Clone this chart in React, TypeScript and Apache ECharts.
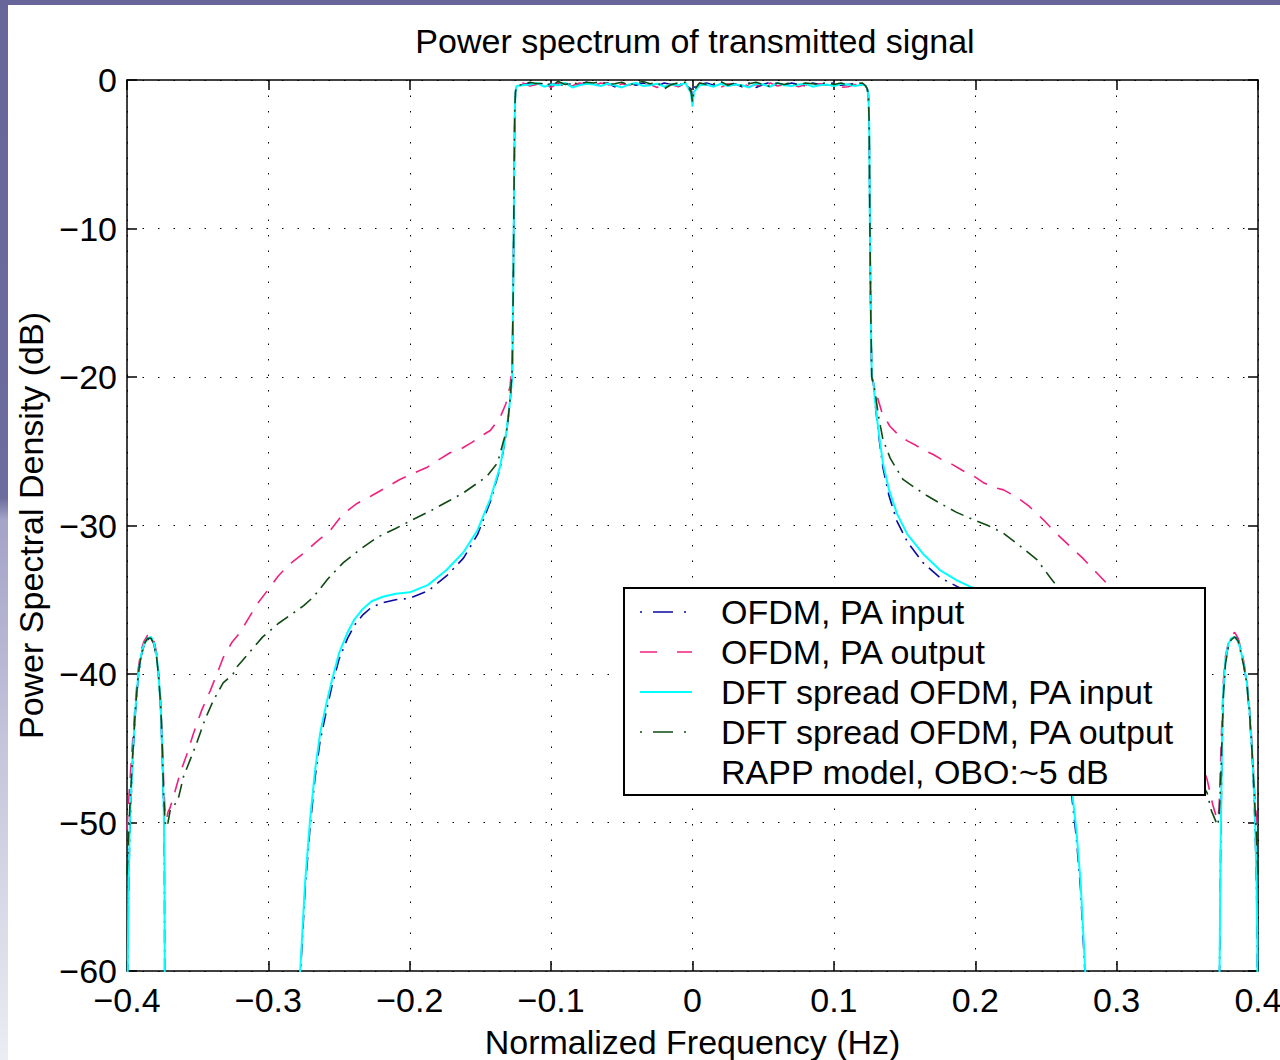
import React, { useEffect, useRef } from "react";
import * as echarts from "echarts";

// ---------- DATA ----------
const xTicks = [-0.4, -0.3, -0.2, -0.1, 0, 0.1, 0.2, 0.3, 0.4];
const yTicks = [-60, -50, -40, -30, -20, -10, 0];

const seriesNames = [
  "OFDM, PA input",
  "OFDM, PA output",
  "DFT spread OFDM, PA input",
  "DFT spread OFDM, PA output",
];
const legendNote = "RAPP model, OBO:~5 dB";

// left image lobe (frequency)
const lobeLF_in = [-0.4, -0.3995, -0.399, -0.398, -0.396, -0.394, -0.392, -0.39, -0.388, -0.3855, -0.383, -0.381, -0.379, -0.3775, -0.376, -0.375, -0.374, -0.3735, -0.3728];
const lobeLF_out = [-0.4, -0.3995, -0.399, -0.398, -0.396, -0.394, -0.392, -0.39, -0.388, -0.3855, -0.383, -0.381, -0.379, -0.3775, -0.376, -0.375, -0.374, -0.373, -0.372];
const blueLobeL = [-80, -60, -55.5, -50.5, -45.8, -42.5, -40.2, -38.8, -38.1, -37.7, -37.5, -38, -38.9, -40.4, -42.7, -45.8, -49.3, -53.5, -80];
const cyanLobeL = [-80, -60, -55, -50, -45.5, -42.3, -40, -38.7, -38, -37.6, -37.5, -37.9, -38.8, -40.3, -42.5, -45.5, -49, -53, -80];
const pinkLobeL = [-50.5, -49.6, -48.8, -47.3, -44.5, -41.8, -39.6, -38.4, -37.8, -37.4, -37.3, -37.7, -38.6, -40, -42, -44.5, -47.5, -49.4, -49.8];
const greenLobeL = [-53.5, -52.5, -51, -49, -45.5, -42.3, -40, -38.7, -38, -37.6, -37.6, -38, -38.9, -40.3, -42.4, -45.2, -48.3, -50, -50.3];

// left skirts
const skirtLF_in = [-0.278, -0.2775, -0.274, -0.2705, -0.267, -0.2634, -0.259, -0.255, -0.25, -0.244, -0.239, -0.233, -0.227, -0.219, -0.21, -0.2, -0.187, -0.174, -0.162, -0.152, -0.143, -0.136, -0.1315, -0.129, -0.1275];
const blueSkirtL = [-80, -60.5, -54.5, -50.3, -47, -44.5, -42.5, -40.8, -39, -37.6, -36.7, -36, -35.5, -35.2, -35, -34.9, -34.4, -33.4, -32.2, -30.6, -28.4, -26.1, -23.7, -21.6, -20];
const cyanSkirtL = [-80, -60, -54, -49.8, -46.5, -44, -42, -40.4, -38.6, -37.2, -36.3, -35.6, -35.1, -34.8, -34.6, -34.5, -34, -33, -31.8, -30.3, -28.2, -26, -23.6, -21.5, -20];
const pinkSkirtLF = [-0.371, -0.3695, -0.366, -0.3625, -0.358, -0.353, -0.347, -0.341, -0.336, -0.332, -0.326, -0.32, -0.315, -0.308, -0.3, -0.293, -0.285, -0.2755, -0.266, -0.256, -0.247, -0.237, -0.227, -0.216, -0.207, -0.1977, -0.188, -0.18, -0.1715, -0.163, -0.156, -0.15, -0.143, -0.136, -0.132, -0.129, -0.1275];
const pinkSkirtL = [-49.3, -49, -47.9, -46.7, -45.5, -44, -42.4, -41.1, -39.9, -38.9, -37.9, -37.2, -36.4, -35.3, -34.3, -33.4, -32.6, -31.9, -31.1, -30.3, -29.2, -28.5, -28.0, -27.4, -26.9, -26.5, -26.1, -25.6, -25.1, -24.8, -24.4, -24.0, -23.6, -22.7, -21.8, -20.6, -19];
const greenSkirtLF = [-0.371, -0.3695, -0.364, -0.36, -0.355, -0.3505, -0.345, -0.339, -0.332, -0.325, -0.322, -0.313, -0.304, -0.293, -0.2825, -0.275, -0.268, -0.258, -0.247, -0.235, -0.223, -0.21, -0.1977, -0.185, -0.1715, -0.162, -0.1455, -0.138, -0.131, -0.129, -0.1275];
const greenSkirtL = [-50, -49.2, -48.5, -46.9, -45.7, -44.6, -43.1, -41.8, -40.6, -40, -39.5, -38.5, -37.5, -36.6, -35.9, -35.4, -34.8, -33.6, -32.5, -31.6, -30.8, -30.2, -29.6, -29, -28.3, -27.8, -26.7, -25.8, -23.4, -21.5, -19.5];

// band edges
const edgeLF = [-0.1268, -0.1262, -0.1257, -0.1252, -0.1245];
const edgeLDb = [-14, -7, -2, -0.8, -0.4];
const edgeRF = [0.1225, 0.1236, 0.1244, 0.125, 0.1254, 0.126, 0.1268];
const edgeRDb = [-0.4, -0.6, -1.0, -3, -9, -15, -20];

// passband
const passF = [-0.12, -0.115, -0.11, -0.105, -0.1, -0.095, -0.09, -0.085, -0.08, -0.075, -0.07, -0.065, -0.06, -0.055, -0.05, -0.045, -0.04, -0.035, -0.03, -0.025, -0.02, -0.015, -0.01, -0.005, -0.001, 0, 0.001, 0.005, 0.01, 0.015, 0.02, 0.025, 0.03, 0.035, 0.04, 0.045, 0.05, 0.055, 0.06, 0.065, 0.07, 0.075, 0.08, 0.085, 0.09, 0.095, 0.1, 0.105, 0.11, 0.115, 0.12];
const bluePass = [-0.3, -0.2, -0.35, -0.2, -0.3, -0.25, -0.4, -0.2, -0.3, -0.15, -0.35, -0.25, -0.2, -0.45, -0.3, -0.2, -0.35, -0.2, -0.3, -0.4, -0.2, -0.3, -0.25, -0.35, -0.6, -1.1, -0.5, -0.3, -0.2, -0.35, -0.15, -0.3, -0.25, -0.45, -0.2, -0.5, -0.3, -0.15, -0.25, -0.35, -0.2, -0.3, -0.4, -0.2, -0.3, -0.25, -0.2, -0.35, -0.3, -0.25, -0.35];
const pinkPass = [-0.2, -0.4, -0.3, -0.25, -0.5, -0.2, -0.35, -0.4, -0.2, -0.3, -0.45, -0.2, -0.3, -0.5, -0.25, -0.35, -0.2, -0.4, -0.3, -0.5, -0.25, -0.3, -0.45, -0.2, -0.7, -1.3, -0.6, -0.2, -0.35, -0.3, -0.5, -0.25, -0.35, -0.2, -0.45, -0.3, -0.55, -0.2, -0.4, -0.3, -0.25, -0.45, -0.3, -0.5, -0.25, -0.35, -0.3, -0.5, -0.45, -0.3, -0.5];
const cyanPass = [-0.35, -0.3, -0.2, -0.45, -0.3, -0.35, -0.2, -0.5, -0.35, -0.25, -0.3, -0.4, -0.25, -0.35, -0.5, -0.3, -0.2, -0.4, -0.35, -0.25, -0.45, -0.3, -0.35, -0.2, -0.9, -1.8, -0.8, -0.35, -0.3, -0.45, -0.25, -0.4, -0.3, -0.35, -0.5, -0.25, -0.3, -0.45, -0.2, -0.35, -0.4, -0.3, -0.25, -0.45, -0.35, -0.3, -0.4, -0.25, -0.3, -0.4, -0.3];
const greenPass = [-0.3, -0.15, -0.25, -0.2, -0.35, -0.1, -0.3, -0.2, -0.25, -0.15, -0.2, -0.1, -0.3, -0.25, -0.15, -0.35, -0.2, -0.1, -0.25, -0.15, -0.6, -0.3, -0.2, -0.15, -0.8, -1.5, -0.7, -0.2, -0.3, -0.25, -0.1, -0.35, -0.2, -0.4, -0.25, -0.15, -0.3, -0.45, -0.2, -0.3, -0.15, -0.35, -0.2, -0.25, -0.3, -0.15, -0.3, -0.2, -0.35, -0.25, -0.2];

// right skirts
const skirtRF_in = [0.128, 0.129, 0.1315, 0.1347, 0.139, 0.1446, 0.152, 0.163, 0.175, 0.187, 0.196, 0.21, 0.22, 0.23, 0.238, 0.244, 0.25, 0.255, 0.259, 0.2634, 0.268, 0.2715, 0.2745, 0.2778, 0.2785];
const cyanSkirtR = [-20.4, -21.5, -23.6, -25.8, -27.6, -29.2, -30.6, -31.9, -33, -33.7, -34.1, -34.6, -34.9, -35.4, -36.2, -37.2, -38.6, -40.4, -42, -44, -47.5, -50.5, -54, -60, -80];
const blueSkirtR = [-20.4, -21.6, -23.8, -26.1, -28, -29.7, -31.1, -32.5, -33.5, -34.1, -34.5, -35, -35.3, -35.8, -36.6, -37.6, -39, -40.8, -42.5, -44.5, -48, -51, -54.5, -60.5, -80];
const pinkSkirtRF = [0.128, 0.13, 0.134, 0.1395, 0.1446, 0.152, 0.158, 0.163, 0.17, 0.177, 0.184, 0.191, 0.198, 0.2055, 0.212, 0.22, 0.2295, 0.238, 0.248, 0.257, 0.267, 0.276, 0.286, 0.293, 0.3, 0.31, 0.32, 0.33, 0.34, 0.348, 0.355, 0.36, 0.364, 0.368, 0.3705];
const pinkSkirtR = [-20.5, -21.1, -22.4, -23.3, -23.8, -24.3, -24.6, -24.9, -25.2, -25.6, -25.9, -26.3, -26.6, -27.1, -27.4, -27.6, -28.1, -28.7, -29.6, -30.5, -31.4, -32.2, -33.2, -33.9, -34.6, -36, -37.4, -39.2, -41, -42.8, -44.6, -46, -47.1, -48.8, -49.6];
const greenSkirtRF = [0.128, 0.129, 0.1315, 0.1347, 0.14, 0.1489, 0.158, 0.166, 0.175, 0.1865, 0.1984, 0.209, 0.2196, 0.232, 0.2436, 0.253, 0.262, 0.27, 0.28, 0.29, 0.3, 0.31, 0.32, 0.33, 0.34, 0.35, 0.358, 0.364, 0.367, 0.3705];
const greenSkirtR = [-20.5, -20.9, -22.6, -24.2, -25.5, -26.9, -27.5, -28, -28.5, -29.1, -29.6, -30, -30.5, -31.4, -32.3, -33.5, -34.6, -35.6, -36.9, -38.2, -39.5, -40.8, -42, -43.3, -44.6, -46, -47.1, -48, -49.2, -50];

// right image lobe
const lobeRF_in = [0.3722, 0.3728, 0.3735, 0.3745, 0.3755, 0.377, 0.379, 0.381, 0.3835, 0.386, 0.388, 0.39, 0.392, 0.394, 0.396, 0.397, 0.398, 0.399, 0.3995, 0.4];
const lobeRF_out = [0.3715, 0.3725, 0.3735, 0.3745, 0.3755, 0.377, 0.379, 0.381, 0.3835, 0.386, 0.388, 0.39, 0.392, 0.394, 0.396, 0.397, 0.398, 0.399, 0.3995, 0.4];
const cyanLobeR = [-80, -60, -52, -45, -41, -39, -38, -37.6, -37.5, -37.8, -38.5, -39.4, -40.5, -42.5, -45.5, -47.5, -50, -54, -58, -80];
const blueLobeR = [-80, -60, -52.5, -45.3, -41.2, -39.1, -38.1, -37.6, -37.4, -37.7, -38.4, -39.4, -40.6, -42.7, -45.8, -47.8, -50.4, -54.5, -58.5, -80];
const pinkLobeR = [-49.8, -49, -46, -43, -40.5, -38.8, -37.9, -37.4, -37.2, -37.6, -38.3, -39.2, -40.3, -42.2, -45, -46.8, -48.6, -49.8, -50.2, -50.4];
const greenLobeR = [-50.2, -49.5, -47.5, -44.5, -41.5, -39.3, -38.2, -37.7, -37.5, -37.8, -38.6, -39.5, -40.6, -42.6, -45.5, -47.3, -49.3, -51, -52.3, -53.5];

// ---------- STYLE ----------
const FONT = '"Liberation Sans", Arial, Helvetica, sans-serif';
const FS = 34;
const COLORS = ["#0a0aa0", "#f0207f", "#00ffff", "#0f4a12"];
const DASHES: any[] = [[14, 6.5, 2, 6.5], [15, 11], "solid", [14, 6.5, 2, 6.5]];
const WIDTHS = [1.6, 1.6, 2, 1.6];
const LEGEND_DASH = [[2, 11, 20, 11, 2, 100], [17, 20, 15, 100], null, [2, 11, 20, 11, 2, 100]];

const zip = (fs: number[], vs: number[]) => fs.map((f, i) => [f, vs[i]]);

const seriesData = [
  [...zip(lobeLF_in, blueLobeL), ...zip(skirtLF_in, blueSkirtL), ...zip(edgeLF, edgeLDb), ...zip(passF, bluePass), ...zip(edgeRF, edgeRDb), ...zip(skirtRF_in, blueSkirtR), ...zip(lobeRF_in, blueLobeR)],
  [...zip(lobeLF_out, pinkLobeL), ...zip(pinkSkirtLF, pinkSkirtL), ...zip(edgeLF, edgeLDb), ...zip(passF, pinkPass), ...zip(edgeRF, edgeRDb), ...zip(pinkSkirtRF, pinkSkirtR), ...zip(lobeRF_out, pinkLobeR)],
  [...zip(lobeLF_in, cyanLobeL), ...zip(skirtLF_in, cyanSkirtL), ...zip(edgeLF, edgeLDb), ...zip(passF, cyanPass), ...zip(edgeRF, edgeRDb), ...zip(skirtRF_in, cyanSkirtR), ...zip(lobeRF_in, cyanLobeR)],
  [...zip(lobeLF_out, greenLobeL), ...zip(greenSkirtLF, greenSkirtL), ...zip(edgeLF, edgeLDb), ...zip(passF, greenPass), ...zip(edgeRF, edgeRDb), ...zip(greenSkirtRF, greenSkirtR), ...zip(lobeRF_out, greenLobeR)],
];

const fmt = (v: number) => {
  const s = Math.abs(v) < 1e-9 ? "0" : Number.isInteger(v) ? String(v) : v.toFixed(1);
  return s.replace("-", "\u2212");
};

export default function App() {
  const ref = useRef<HTMLDivElement>(null);
  useEffect(() => {
    if (!ref.current) return;
    const chart = echarts.init(ref.current, undefined, { renderer: "svg" });
    const textStyle = { fontFamily: FONT, fontSize: FS, color: "#000" };
    const axLine = { show: true, onZero: false, lineStyle: { color: "#000", width: 1.5 } };
    const axTick = { show: true, inside: true, length: 10, lineStyle: { color: "#000", width: 1.5 } };
    const grid = { show: true, lineStyle: { color: "#000", width: 1, type: [1.5, 14] as any } };

    const legendX = 624, legendY = 588, legendW = 581, legendH = 207;
    const rowY = (i: number) => legendY + 24 + i * 40;
    const legendEls: any[] = [
      { type: "rect", z: 100, shape: { x: legendX, y: legendY, width: legendW, height: legendH }, style: { fill: "#fff", stroke: "#000", lineWidth: 2 } },
    ];
    seriesNames.forEach((n, i) => {
      legendEls.push({
        type: "line", z: 101,
        shape: { x1: 640, y1: rowY(i), x2: 692, y2: rowY(i) },
        style: { stroke: COLORS[i], lineWidth: WIDTHS[i], lineDash: LEGEND_DASH[i] || undefined },
      });
      legendEls.push({
        type: "text", z: 101, x: 721, y: rowY(i),
        style: { text: n, fontFamily: FONT, fontSize: FS, fill: "#000", verticalAlign: "middle", align: "left" },
      });
    });
    legendEls.push({
      type: "text", z: 101, x: 721, y: rowY(4),
      style: { text: legendNote, fontFamily: FONT, fontSize: FS, fill: "#000", verticalAlign: "middle", align: "left" },
    });

    chart.setOption({
      animation: false,
      backgroundColor: "#fff",
      title: {
        text: "Power spectrum of transmitted signal",
        left: 695, top: 41, padding: 0,
        textAlign: "center", textVerticalAlign: "middle",
        textStyle: { ...textStyle, fontWeight: "normal" },
      },
      grid: { left: 127, right: 22, top: 80, bottom: 89, containLabel: false, outerBoundsMode: "none" },
      xAxis: [
        {
          type: "value", min: xTicks[0], max: xTicks[xTicks.length - 1], interval: 0.1, position: "bottom",
          name: "Normalized Frequency (Hz)", nameLocation: "middle", nameGap: 54, nameTextStyle: textStyle,
          axisLine: axLine, axisTick: axTick, splitLine: grid,
          axisLabel: { ...textStyle, margin: 12, formatter: fmt },
        },
        {
          type: "value", min: xTicks[0], max: xTicks[xTicks.length - 1], interval: 0.1, position: "top",
          axisLine: axLine, axisTick: axTick, splitLine: { show: false }, axisLabel: { show: false },
        },
      ],
      yAxis: [
        {
          type: "value", min: yTicks[0], max: yTicks[yTicks.length - 1], interval: 10, position: "left",
          name: "Power Spectral Density (dB)", nameLocation: "middle", nameGap: 78, nameTextStyle: textStyle,
          axisLine: axLine, axisTick: axTick, splitLine: grid,
          axisLabel: { ...textStyle, margin: 10, formatter: fmt },
        },
        {
          type: "value", min: yTicks[0], max: yTicks[yTicks.length - 1], interval: 10, position: "right",
          axisLine: axLine, axisTick: axTick, splitLine: { show: false }, axisLabel: { show: false },
        },
      ],
      graphic: [
        { type: "rect", z: 0, shape: { x: 0, y: 0, width: 1280, height: 5 }, style: { fill: "#676599" } },
        {
          type: "rect", z: 0, shape: { x: 0, y: 0, width: 8, height: 1060 },
          style: {
            fill: {
              type: "linear", x: 0, y: 0, x2: 0, y2: 1,
              colorStops: [
                { offset: 0, color: "#676599" },
                { offset: 0.47, color: "#6d6c9f" },
                { offset: 0.49, color: "#a4a3c8" },
                { offset: 0.7, color: "#c4c4db" },
                { offset: 1, color: "#ececf3" },
              ],
            },
          },
        },
        ...legendEls,
      ],
      series: seriesNames.map((n, i) => ({
        name: n,
        type: "line",
        xAxisIndex: 0,
        yAxisIndex: 0,
        data: seriesData[i],
        showSymbol: false,
        symbol: "none",
        clip: true,
        lineStyle: { color: COLORS[i], width: WIDTHS[i], type: DASHES[i] },
        z: 2 + i,
      })),
    });
    return () => chart.dispose();
  }, []);
  return (
    <div
      ref={ref}
      style={{ position: "fixed", left: 0, top: 0, width: 1280, height: 1060, background: "#fff" }}
    />
  );
}
